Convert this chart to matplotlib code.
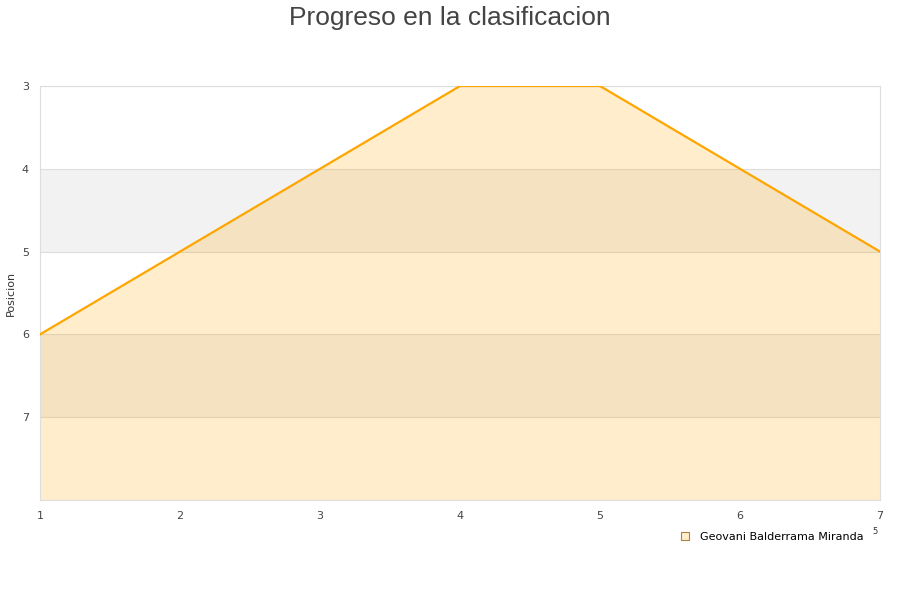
import matplotlib
matplotlib.use("Agg")
import matplotlib.pyplot as plt
from matplotlib.lines import Line2D

# data
jornadas = [1, 2, 3, 4, 5, 6, 7]
posicion = [6, 5, 4, 3, 3, 4, 5]
jugador = "Geovani Balderrama Miranda"
y_ticks = [3, 4, 5, 6, 7]

fig = plt.figure(figsize=(9, 6), dpi=100)
ax = fig.add_axes([40 / 900, 1 - 500 / 600, 840 / 900, 414 / 600])

# alternating bands
for lo in [4, 6]:
    ax.axhspan(lo, lo + 1, color="#f2f2f2", zorder=0, lw=0)
for y in y_ticks:
    ax.axhline(y, color="#dddddd", lw=0.8, zorder=1)

ax.fill_between(jornadas, posicion, 8, color="#ffa500", alpha=0.2, lw=0, zorder=2)
ax.plot(jornadas, posicion, color="#ffa500", lw=1.6, zorder=3)

ax.set_xlim(1, 7)
ax.set_ylim(8, 3)
ax.set_yticks(y_ticks)
ax.set_xticks(jornadas)
ax.tick_params(length=0, labelsize=8, colors="#444444")
ax.tick_params(axis="x", pad=8)
ax.tick_params(axis="y", pad=8)
for s in ax.spines.values():
    s.set_color("#dddddd")
    s.set_linewidth(0.8)

ax.set_ylabel("Posicion", fontsize=8, color="#333333")
ax.yaxis.set_label_coords(-24 / 840, 0.5)
fig.suptitle("Progreso en la clasificacion", y=0.99, fontsize=19,
             color="#444444", family="Liberation Sans")

handle = Line2D([], [], marker="s", ls="none", markersize=6,
                markerfacecolor="#ffedcc", markeredgecolor="#b08040", markeredgewidth=0.8)
fig.legend([handle], [jugador], loc="center right", bbox_to_anchor=(0.964, 1 - 537 / 600),
           frameon=False, fontsize=8, handletextpad=0.3, borderaxespad=0)
fig.text(875 / 900, 1 - 532 / 600, "5", fontsize=6, color="#333333", ha="center", va="center")

plt.savefig("out.png")
